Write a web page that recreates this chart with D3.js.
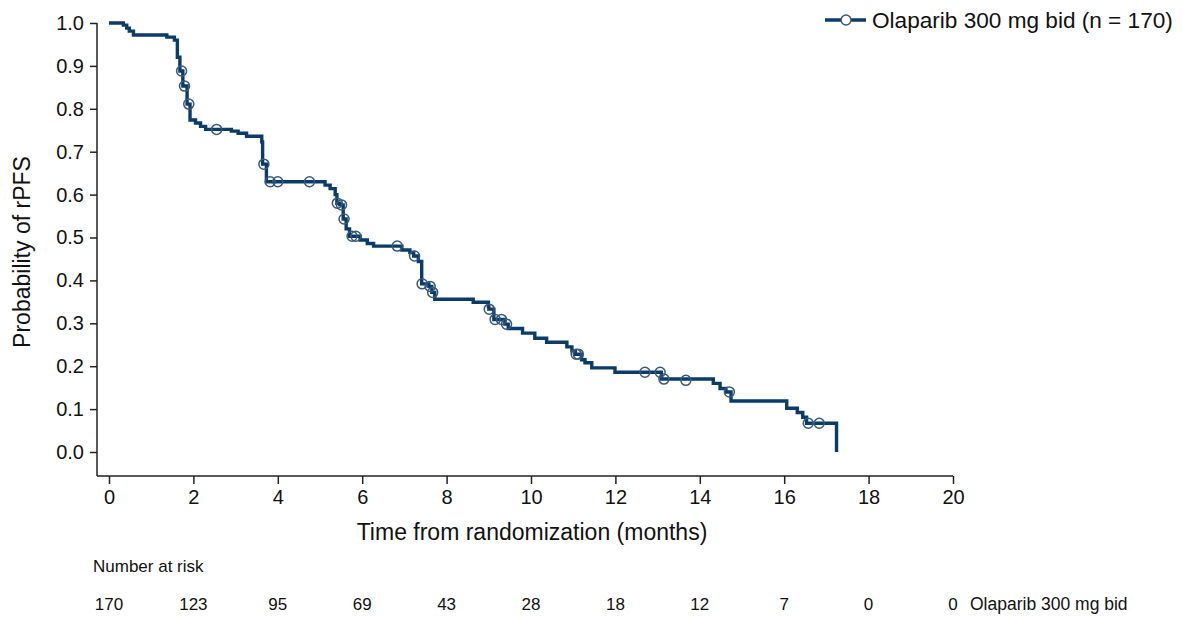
<!DOCTYPE html>
<html>
<head>
<meta charset="utf-8">
<script src="https://cdn.jsdelivr.net/npm/d3@7"></script>
<style>
  html, body { margin: 0; padding: 0; background: #fff; }
  svg { display: block; font-family: "Liberation Sans", Arial, sans-serif; }
</style>
</head>
<body>
<svg id="chart" width="1183" height="617"></svg>
<script>
// ---- Data ----
const seriesName = "Olaparib 300 mg bid";
const nPatients = 170;
const stepTimes = [0, 0.34, 0.42, 0.48, 0.58, 1.37, 1.55, 1.62, 1.68, 1.75, 1.85, 1.92, 2.05, 2.17, 2.29,
  2.90, 3.06, 3.26, 3.62, 3.64, 3.73, 5.12, 5.24, 5.36, 5.40, 5.47, 5.55, 5.62, 5.70, 5.95, 6.12, 6.27,
  6.94, 7.13, 7.22, 7.33, 7.41, 7.58, 7.65, 7.72, 8.63, 8.99, 9.00, 9.12, 9.38, 9.46, 9.80, 10.09, 10.37,
  10.85, 10.97, 11.05, 11.20, 11.28, 11.44, 11.99, 13.09, 14.32, 14.48, 14.62, 14.74, 16.06, 16.31,
  16.44, 16.53, 17.24];
const stepSurv = [1.000, 0.995, 0.988, 0.981, 0.972, 0.967, 0.960, 0.920, 0.888, 0.853, 0.811, 0.774, 0.767, 0.759, 0.752,
  0.748, 0.743, 0.736, 0.723, 0.671, 0.630, 0.622, 0.614, 0.600, 0.580, 0.576, 0.543, 0.520, 0.503, 0.494, 0.486, 0.480,
  0.471, 0.465, 0.457, 0.444, 0.392, 0.386, 0.372, 0.356, 0.349, 0.340, 0.333, 0.309, 0.298, 0.288, 0.277, 0.265, 0.256,
  0.245, 0.236, 0.228, 0.215, 0.208, 0.196, 0.186, 0.170, 0.160, 0.148, 0.140, 0.119, 0.102, 0.092,
  0.081, 0.067, 0.000];
const censorTimes = [1.72, 1.79, 1.89, 2.55, 3.67, 3.82, 4.00, 4.75, 5.41, 5.51, 5.57, 5.76, 5.85, 6.83,
  7.24, 7.42, 7.61, 7.67, 9.01, 9.15, 9.30, 9.42, 11.07, 11.12, 12.70, 13.06, 13.15, 13.67, 14.70, 16.57, 16.83];
const censorSurv = [0.888, 0.853, 0.811, 0.752, 0.671, 0.630, 0.630, 0.630, 0.580, 0.576, 0.543, 0.503, 0.503, 0.480,
  0.457, 0.392, 0.386, 0.372, 0.333, 0.309, 0.309, 0.298, 0.228, 0.228, 0.186, 0.186, 0.170, 0.167, 0.140, 0.067, 0.067];
const xTicks = [0, 2, 4, 6, 8, 10, 12, 14, 16, 18, 20];
const yTicks = [0.0, 0.1, 0.2, 0.3, 0.4, 0.5, 0.6, 0.7, 0.8, 0.9, 1.0];
const atRisk = [170, 123, 95, 69, 43, 28, 18, 12, 7, 0, 0];
const xTitle = "Time from randomization (months)";
const yTitle = "Probability of rPFS";

// ---- Chart ----
const svg = d3.select("#chart");
const lineColor = "#0b3b68";
const circleColor = "#36597c";
const axisColor = "#222";

const x = d3.scaleLinear().domain([0, 20]).range([109, 953]);
const y = d3.scaleLinear().domain([0, 1]).range([452, 23]);
const axisY = 476, axisX = 97;

// axis lines
svg.append("line").attr("x1", axisX).attr("x2", x(20)).attr("y1", axisY).attr("y2", axisY)
  .attr("stroke", axisColor).attr("stroke-width", 1.5);
svg.append("line").attr("x1", axisX).attr("x2", axisX).attr("y1", y(1)).attr("y2", axisY)
  .attr("stroke", axisColor).attr("stroke-width", 1.5);

// y axis
const gy = svg.append("g").attr("transform", `translate(${axisX},0)`)
  .call(d3.axisLeft(y).tickValues(yTicks).tickFormat(d3.format(".1f")).tickSize(7).tickPadding(6));
gy.select(".domain").remove();
gy.selectAll("line").attr("stroke", axisColor).attr("stroke-width", 1.5);
gy.selectAll("text").attr("font-size", 20).attr("fill", "#111").attr("font-family", "Liberation Sans, Arial, sans-serif");

// x axis
const gx = svg.append("g").attr("transform", `translate(0,${axisY})`)
  .call(d3.axisBottom(x).tickValues(xTicks).tickFormat(d3.format("d")).tickSize(8).tickPadding(6));
gx.select(".domain").remove();
gx.selectAll("line").attr("stroke", axisColor).attr("stroke-width", 1.5);
gx.selectAll("text").attr("font-size", 20).attr("fill", "#111").attr("font-family", "Liberation Sans, Arial, sans-serif");

// titles
svg.append("text").attr("x", 532).attr("y", 540).attr("text-anchor", "middle")
  .attr("font-size", 23).attr("fill", "#111").text(xTitle);
svg.append("text").attr("transform", `translate(30,252) rotate(-90)`).attr("text-anchor", "middle")
  .attr("font-size", 23).attr("fill", "#111").text(yTitle);

// KM step curve
const pts = stepTimes.map((t, i) => [t, stepSurv[i]]);
const line = d3.line().x(d => x(d[0])).y(d => y(d[1])).curve(d3.curveStepAfter);
svg.append("path").datum(pts).attr("d", line).attr("fill", "none")
  .attr("stroke", lineColor).attr("stroke-width", 3.4).attr("stroke-linejoin", "miter");

// censor marks
svg.append("g").selectAll("circle").data(censorTimes.map((t, i) => [t, censorSurv[i]])).join("circle")
  .attr("cx", d => x(d[0])).attr("cy", d => y(d[1])).attr("r", 5)
  .attr("fill", "none").attr("stroke", circleColor).attr("stroke-width", 1.5);

// legend
const lg = svg.append("g");
lg.append("line").attr("x1", 825).attr("x2", 866).attr("y1", 20).attr("y2", 20)
  .attr("stroke", lineColor).attr("stroke-width", 3.4);
lg.append("circle").attr("cx", 846).attr("cy", 20).attr("r", 5).attr("fill", "#fff")
  .attr("stroke", circleColor).attr("stroke-width", 1.5);
lg.append("text").attr("x", 872).attr("y", 28).attr("font-size", 22.6).attr("fill", "#111")
  .text(`${seriesName} (n = ${nPatients})`);

// number at risk
svg.append("text").attr("x", 93).attr("y", 572).attr("font-size", 17).attr("fill", "#111").text("Number at risk");
svg.append("g").selectAll("text").data(atRisk).join("text")
  .attr("x", (d, i) => x(xTicks[i])).attr("y", 610).attr("text-anchor", "middle")
  .attr("font-size", 17).attr("fill", "#111").text(d => d);
svg.append("text").attr("x", 970).attr("y", 610).attr("font-size", 17.5).attr("fill", "#111").text(seriesName);
</script>
</body>
</html>
